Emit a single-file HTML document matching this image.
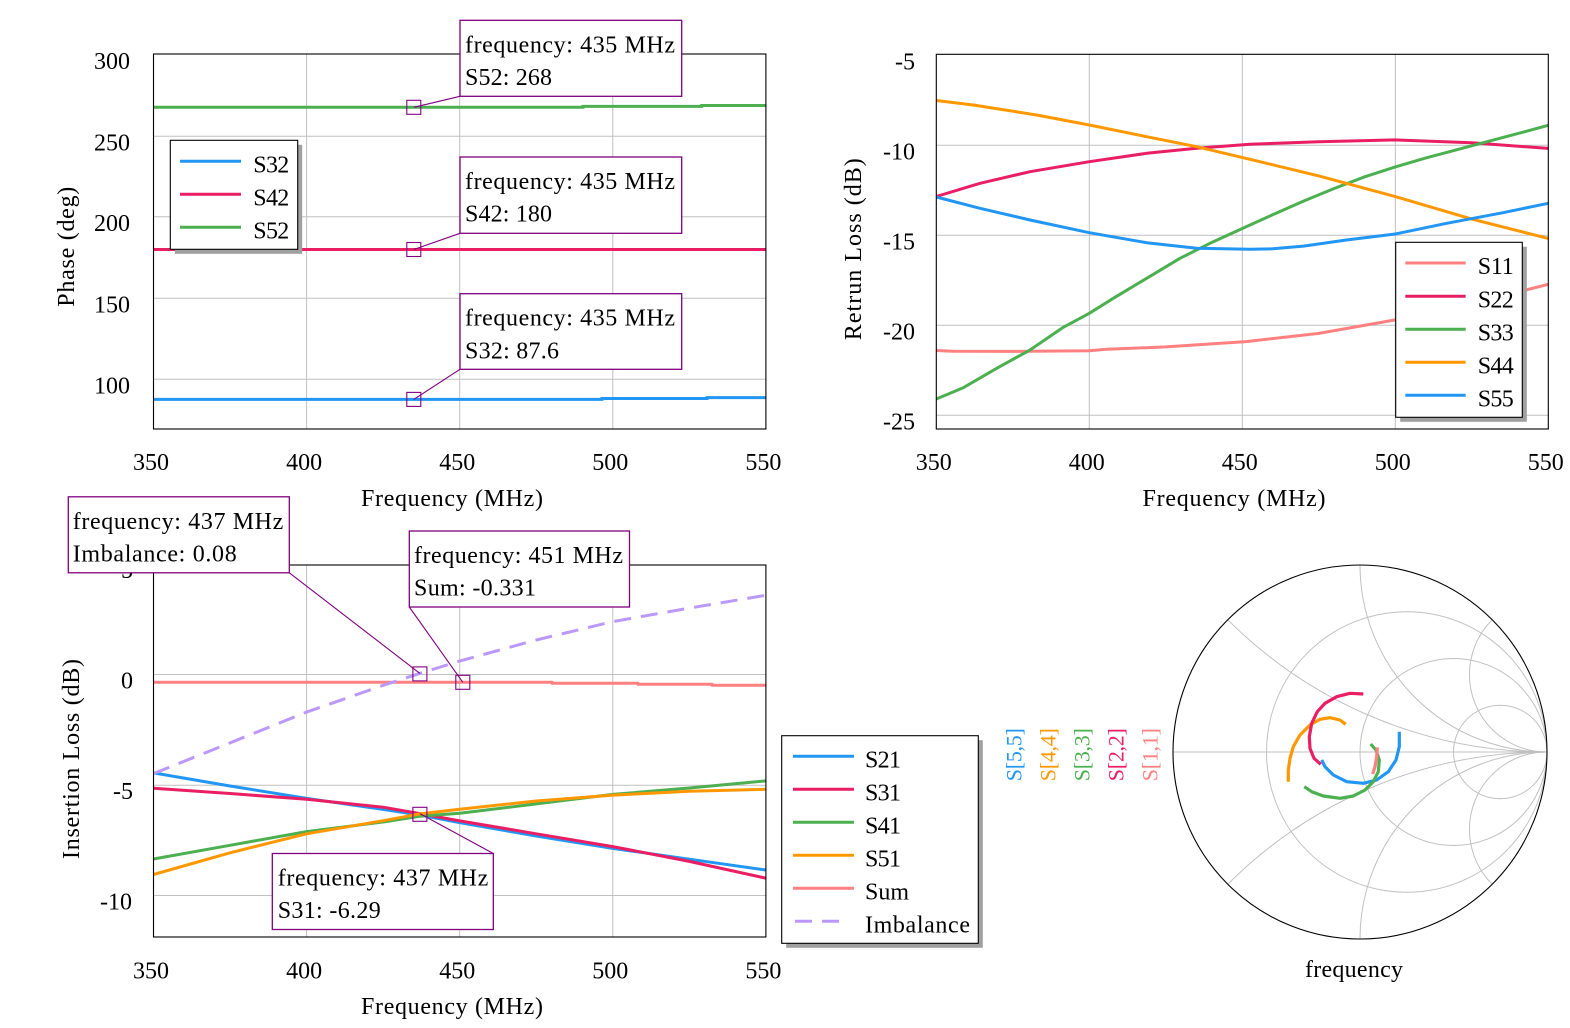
<!DOCTYPE html>
<html><head><meta charset="utf-8"><style>
html,body{margin:0;padding:0;background:#fff;}
svg{display:block;font-family:"Liberation Serif",serif;}
</style></head><body>
<svg width="1570" height="1028" viewBox="0 0 1570 1028" xmlns="http://www.w3.org/2000/svg">
<rect width="1570" height="1028" fill="#fff"/>

<!-- ========== TOP LEFT: Phase ========== -->
<g stroke="#c0c0c0" stroke-width="1" fill="none">
<line x1="306.6" y1="54" x2="306.6" y2="429"/><line x1="459.7" y1="54" x2="459.7" y2="429"/><line x1="612.8" y1="54" x2="612.8" y2="429"/>
<line x1="153.5" y1="379.3" x2="765.9" y2="379.3"/><line x1="153.5" y1="298.3" x2="765.9" y2="298.3"/><line x1="153.5" y1="216.8" x2="765.9" y2="216.8"/><line x1="153.5" y1="136.3" x2="765.9" y2="136.3"/>
</g>
<g fill="none" stroke-width="3">
<polyline stroke="#2196f3" points="153.5,399.4 602,399.4 602,398.5 707,398.5 707,397.6 765.9,397.6"/>
<polyline stroke="#e91e63" points="153.5,249.5 765.9,249.5"/>
<polyline stroke="#4caf50" points="153.5,107.3 583,107.3 583,106.4 701.7,106.4 701.7,105.5 765.9,105.5"/>
</g>
<rect x="153.5" y="54" width="612.4" height="375" fill="none" stroke="#000" stroke-width="1.1"/>
<g font-size="24" fill="#000" text-anchor="end">
<text x="130" y="69">300</text><text x="130" y="150.3">250</text><text x="130" y="230.8">200</text><text x="130" y="312.3">150</text><text x="130" y="393.3">100</text>
</g>
<g font-size="24" fill="#000" text-anchor="middle">
<text x="151" y="470">350</text><text x="304.1" y="470">400</text><text x="457.2" y="470">450</text><text x="610.3" y="470">500</text><text x="763.4" y="470">550</text>
<text x="452" y="506" textLength="182">Frequency (MHz)</text>
<text transform="translate(74,246.7) rotate(-90)" textLength="120">Phase (deg)</text>
</g>
<!-- legend -->
<rect x="174.8" y="144.8" width="127.4" height="109" fill="#a0a0a0"/>
<rect x="170.3" y="140.3" width="127.4" height="109" fill="#fff" stroke="#000" stroke-width="1.1"/>
<g stroke-width="3">
<line x1="180" y1="161.3" x2="241" y2="161.3" stroke="#2196f3"/>
<line x1="180" y1="194.3" x2="241" y2="194.3" stroke="#e91e63"/>
<line x1="180" y1="227.3" x2="241" y2="227.3" stroke="#4caf50"/>
</g>
<g font-size="24"><text x="253.3" y="172.3" textLength="36">S32</text><text x="253.3" y="205.3" textLength="36">S42</text><text x="253.3" y="238.3" textLength="36">S52</text></g>
<!-- annotations -->
<g stroke="#800080" fill="none" stroke-width="1.1">
<line x1="413.8" y1="107.3" x2="460" y2="96.3"/>
<line x1="413.8" y1="249.5" x2="460" y2="233.3"/>
<line x1="413.8" y1="399.4" x2="460" y2="369.3"/>
<rect x="406.8" y="100.3" width="14" height="14"/>
<rect x="406.8" y="242.5" width="14" height="14"/>
<rect x="406.8" y="392.4" width="14" height="14"/>
</g>
<g stroke="#800080" fill="#fff" stroke-width="1.3">
<rect x="460" y="20.3" width="221.7" height="76"/>
<rect x="460" y="157" width="221.7" height="76.3"/>
<rect x="460" y="293.7" width="221.7" height="75.6"/>
</g>
<g font-size="24" fill="#000">
<text x="465" y="52.3" textLength="210">frequency: 435 MHz</text><text x="465" y="85" textLength="87">S52: 268</text>
<text x="465" y="189" textLength="210">frequency: 435 MHz</text><text x="465" y="221.7" textLength="87">S42: 180</text>
<text x="465" y="325.7" textLength="210">frequency: 435 MHz</text><text x="465" y="358.4" textLength="94">S32: 87.6</text>
</g>

<!-- ========== TOP RIGHT: Return loss ========== -->
<g stroke="#c0c0c0" stroke-width="1" fill="none">
<line x1="1089.3" y1="54.3" x2="1089.3" y2="429"/><line x1="1242.3" y1="54.3" x2="1242.3" y2="429"/><line x1="1395.3" y1="54.3" x2="1395.3" y2="429"/>
<line x1="936.3" y1="145.3" x2="1548.3" y2="145.3"/><line x1="936.3" y1="235.3" x2="1548.3" y2="235.3"/><line x1="936.3" y1="325.3" x2="1548.3" y2="325.3"/><line x1="936.3" y1="415.3" x2="1548.3" y2="415.3"/>
</g>
<g fill="none" stroke-width="3" stroke-linejoin="round">
<polyline stroke="#ff8080" points="936.3,350.5 953,351.3 1012.8,351.4 1089.3,350.7 1106.7,349.3 1165.8,346.9 1246,341.6 1318.8,333.4 1395.3,319.9 1471.8,303.7 1548.3,284.3"/>
<polyline stroke="#e91e63" points="936.3,196.5 980,183.3 1030,171.7 1089.3,161.7 1146.7,153.3 1196.7,148.3 1250,144.3 1318.8,141.7 1395.3,139.9 1471.8,142.8 1548.3,148.4"/>
<polyline stroke="#4caf50" points="936.3,399 963.3,387.7 996.7,368.3 1030,350 1063.3,327.3 1089.3,313.3 1113.3,298.3 1146.7,278.3 1180,258.3 1213.3,241.7 1250,225 1272.9,214.6 1303.5,201.1 1334.1,188.5 1364.7,176.8 1395.3,166.9 1425.9,157.9 1456.5,149.8 1487.1,141.7 1517.7,133.6 1548.3,125.3"/>
<polyline stroke="#ff9800" points="936.3,100.5 973.3,105 1036.7,115 1089.3,125 1146.7,136.7 1196.7,146.7 1250,159.3 1318.8,175.9 1395.3,196.6 1471.8,219.1 1548.3,238.4"/>
<polyline stroke="#2196f3" points="936.3,197 980,208.3 1030,220 1089.3,232.7 1146.7,242.7 1196.7,248.3 1250,249.3 1272.9,248.8 1303.5,246.1 1346.3,240 1395.3,234 1447.3,223.2 1502.4,212.8 1548.3,203.3"/>
</g>
<rect x="936.3" y="54.3" width="612" height="374.7" fill="none" stroke="#000" stroke-width="1.1"/>
<g font-size="24" fill="#000" text-anchor="end">
<text x="915" y="69.3">-5</text><text x="915" y="159.3">-10</text><text x="915" y="249.3">-15</text><text x="915" y="339.3">-20</text><text x="915" y="429.3">-25</text>
</g>
<g font-size="24" fill="#000" text-anchor="middle">
<text x="933.8" y="470">350</text><text x="1086.8" y="470">400</text><text x="1239.8" y="470">450</text><text x="1392.8" y="470">500</text><text x="1545.8" y="470">550</text>
<text x="1234" y="506" textLength="183">Frequency (MHz)</text>
<text transform="translate(861,249.2) rotate(-90)" textLength="182">Retrun Loss (dB)</text>
</g>
<rect x="1400.2" y="246.8" width="126.6" height="175" fill="#a0a0a0"/>
<rect x="1395.7" y="242.3" width="126.6" height="175" fill="#fff" stroke="#000" stroke-width="1.1"/>
<g stroke-width="3">
<line x1="1405.3" y1="263" x2="1465.7" y2="263" stroke="#ff8080"/>
<line x1="1405.3" y1="296.3" x2="1465.7" y2="296.3" stroke="#e91e63"/>
<line x1="1405.3" y1="329.3" x2="1465.7" y2="329.3" stroke="#4caf50"/>
<line x1="1405.3" y1="362.3" x2="1465.7" y2="362.3" stroke="#ff9800"/>
<line x1="1405.3" y1="395.3" x2="1465.7" y2="395.3" stroke="#2196f3"/>
</g>
<g font-size="24"><text x="1477.7" y="274" textLength="36">S11</text><text x="1477.7" y="307.3" textLength="36">S22</text><text x="1477.7" y="340.3" textLength="36">S33</text><text x="1477.7" y="373.3" textLength="36">S44</text><text x="1477.7" y="406.3" textLength="36">S55</text></g>

<!-- ========== BOTTOM LEFT: Insertion loss ========== -->
<g stroke="#c0c0c0" stroke-width="1" fill="none">
<line x1="306.6" y1="565" x2="306.6" y2="937"/><line x1="459.7" y1="565" x2="459.7" y2="937"/><line x1="612.8" y1="565" x2="612.8" y2="937"/>
<line x1="153.5" y1="674.5" x2="765.9" y2="674.5"/><line x1="153.5" y1="785.2" x2="765.9" y2="785.2"/><line x1="153.5" y1="895.5" x2="765.9" y2="895.5"/>
</g>
<g fill="none" stroke-width="3" stroke-linejoin="round">
<polyline stroke="#2196f3" points="153.5,772.9 230.05,786 306.6,798.4 383.15,809.4 419.9,815 459.7,822.7 536.25,836 612.8,848.4 689.35,859.2 765.9,870"/>
<polyline stroke="#e91e63" points="153.5,788.2 230.05,793.5 306.6,799.3 383.15,807.2 419.9,813.6 459.7,820.9 536.25,833.8 612.8,846.6 689.35,861.4 765.9,878.2"/>
<polyline stroke="#4caf50" points="153.5,859 230.05,845.3 306.6,831.6 383.15,822 419.9,816.3 459.7,813.2 536.25,803.9 612.8,794.4 689.35,788 765.9,780.9"/>
<polyline stroke="#ff9800" points="153.5,874.5 230.05,852.8 306.6,833.8 383.15,820.7 419.9,813.9 459.7,809.2 536.25,801 612.8,795.1 689.35,791.3 765.9,789.3"/>
<polyline stroke="#ff8080" points="153.5,682.2 552,682.2 552,683.2 638,683.2 638,684.2 712,684.2 712,685.3 765.9,685.3"/>
<polyline stroke="#bb99fa" stroke-dasharray="17 10" points="153.5,773.6 230.05,742.85 306.6,712.1 380.1,686.4 419.9,673.4 459.7,661 536.25,640 612.8,621.6 689.35,608.1 765.9,595.3"/>
</g>
<rect x="153.5" y="565" width="612.4" height="372" fill="none" stroke="#000" stroke-width="1.1"/>
<g font-size="24" fill="#000" text-anchor="end">
<text x="133" y="578">5</text><text x="133" y="688.5">0</text><text x="133" y="799.2">-5</text><text x="132" y="909.5">-10</text>
</g>
<g font-size="24" fill="#000" text-anchor="middle">
<text x="151" y="978.5">350</text><text x="304.1" y="978.5">400</text><text x="457.2" y="978.5">450</text><text x="610.3" y="978.5">500</text><text x="763.4" y="978.5">550</text>
<text x="452" y="1014" textLength="182">Frequency (MHz)</text>
<text transform="translate(79,759) rotate(-90)" textLength="200">Insertion Loss (dB)</text>
</g>
<!-- annotations -->
<g stroke="#800080" fill="none" stroke-width="1.1">
<line x1="289.3" y1="572.8" x2="419.9" y2="673.4"/>
<line x1="409.3" y1="607" x2="462.8" y2="682.3"/>
<line x1="419.9" y1="813.6" x2="493.3" y2="853.5"/>
<rect x="412.9" y="666.9" width="14" height="14"/>
<rect x="455.8" y="675.3" width="14" height="14"/>
<rect x="412.9" y="807.3" width="14" height="14"/>
</g>
<g stroke="#800080" fill="#fff" stroke-width="1.3">
<rect x="68.3" y="496.8" width="221" height="76"/>
<rect x="409.3" y="531" width="220.2" height="76"/>
<rect x="272.3" y="853.5" width="221" height="76"/>
</g>
<g font-size="24" fill="#000">
<text x="72.7" y="528.8" textLength="210.6">frequency: 437 MHz</text><text x="72.7" y="561.3" textLength="164">Imbalance: 0.08</text>
<text x="414" y="563" textLength="209">frequency: 451 MHz</text><text x="414" y="595.5" textLength="122">Sum: -0.331</text>
<text x="277.7" y="885.5" textLength="210.6">frequency: 437 MHz</text><text x="277.7" y="918" textLength="103">S31: -6.29</text>
</g>
<!-- legend -->
<rect x="786.2" y="740.2" width="196.6" height="207.6" fill="#a0a0a0"/>
<rect x="781.7" y="735.7" width="196.6" height="207.6" fill="#fff" stroke="#000" stroke-width="1.1"/>
<g stroke-width="3">
<line x1="793" y1="756.3" x2="854" y2="756.3" stroke="#2196f3"/>
<line x1="793" y1="789.3" x2="854" y2="789.3" stroke="#e91e63"/>
<line x1="793" y1="822.3" x2="854" y2="822.3" stroke="#4caf50"/>
<line x1="793" y1="855.3" x2="854" y2="855.3" stroke="#ff9800"/>
<line x1="793" y1="888.3" x2="854" y2="888.3" stroke="#ff8080"/>
<line x1="795" y1="921.3" x2="812" y2="921.3" stroke="#bb99fa"/>
<line x1="822" y1="921.3" x2="839" y2="921.3" stroke="#bb99fa"/>
</g>
<g font-size="24">
<text x="865" y="767.3" textLength="36">S21</text><text x="865" y="800.3" textLength="36">S31</text><text x="865" y="833.3" textLength="36">S41</text><text x="865" y="866.3" textLength="36">S51</text><text x="865" y="899.3" textLength="44">Sum</text><text x="865" y="932.3" textLength="105">Imbalance</text>
</g>

<!-- ========== SMITH CHART ========== -->
<defs><clipPath id="sc"><circle cx="1360" cy="752" r="187"/></clipPath></defs>
<g stroke="#c0c0c0" stroke-width="1" fill="none" clip-path="url(#sc)">
<line x1="1173" y1="752" x2="1547" y2="752"/>
<circle cx="1406.75" cy="752" r="140.25"/>
<circle cx="1453.5" cy="752" r="93.5"/>
<circle cx="1500.25" cy="752" r="46.75"/>
<path d="M1227.8,619.8 A451.5,451.5 0 0 0 1547,752"/>
<path d="M1227.8,884.2 A451.5,451.5 0 0 1 1547,752"/>
<path d="M1360,565 A187,187 0 0 0 1547,752"/>
<path d="M1360,939 A187,187 0 0 1 1547,752"/>
<path d="M1492.2,619.8 A77.4,77.4 0 0 0 1547,752"/>
<path d="M1492.2,884.2 A77.4,77.4 0 0 1 1547,752"/>
</g>
<circle cx="1360" cy="752" r="187" fill="none" stroke="#000" stroke-width="1.1"/>
<g fill="none" stroke-width="3.2" stroke-linejoin="round">
<polyline stroke="#2196f3" points="1399.3,731.7 1399.3,746.7 1396,760 1388.3,771.7 1376.7,780 1363.3,783.3 1346.7,781.7 1333.3,775 1325,766.7 1321.7,760"/>
<polyline stroke="#ff9800" points="1345.7,724.3 1340,720 1330,717.7 1320,719.3 1310,725 1300,735 1293.3,746.7 1290,758.3 1288.3,770 1288.3,781.7"/>
<polyline stroke="#e91e63" points="1363.3,694 1350,693.3 1336.7,696.7 1325,703.3 1317.3,711.7 1311.7,723.3 1309.3,736.7 1310,748.3 1314,758.3 1320.7,764.3"/>
<polyline stroke="#4caf50" points="1370.7,744 1376,750 1379.3,760 1378.3,771.7 1373.3,781.7 1365,790 1353.3,796 1340,798.3 1323.3,796 1311.7,791.7 1304.3,786.7"/>
<polyline stroke="#ff8080" points="1377.3,747.3 1376.7,756.7 1375,766.7 1372.7,774"/>
</g>
<g font-size="22" text-anchor="middle">
<text transform="translate(1021.6,754.7) rotate(-90)" fill="#2196f3" textLength="53">S[5,5]</text>
<text transform="translate(1055.3,754.7) rotate(-90)" fill="#ff9800" textLength="53">S[4,4]</text>
<text transform="translate(1089.6,754.7) rotate(-90)" fill="#4caf50" textLength="53">S[3,3]</text>
<text transform="translate(1123.4,754.7) rotate(-90)" fill="#e91e63" textLength="53">S[2,2]</text>
<text transform="translate(1157.4,754.7) rotate(-90)" fill="#ff8080" textLength="53">S[1,1]</text>
</g>
<text x="1354" y="977" font-size="24" text-anchor="middle" textLength="98">frequency</text>
</svg>
</body></html>
